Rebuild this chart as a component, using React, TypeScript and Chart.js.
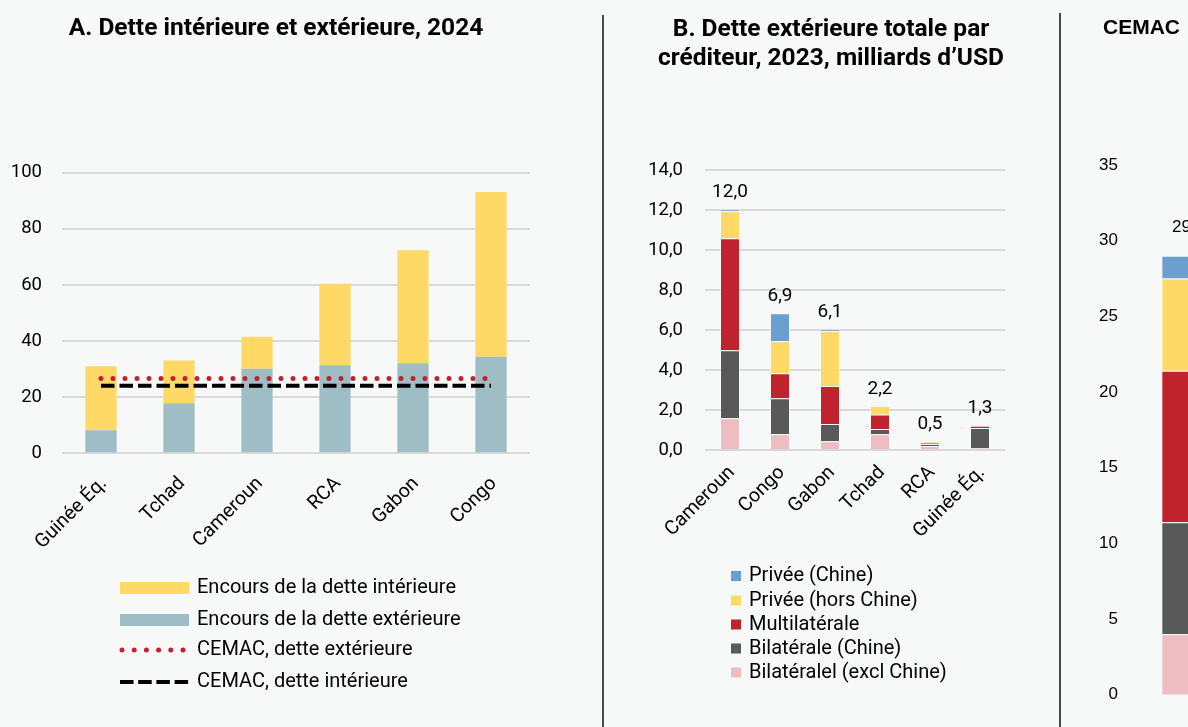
import React, { useEffect, useRef } from 'react';
import { Chart, registerables } from 'chart.js';

Chart.register(...registerables);

const FONT = "Roboto, 'Noto Sans', sans-serif";
const ARIAL = "'Liberation Sans', Arial, sans-serif";
const BG = '#f7f8f8';
const YELLOW = '#FFD966';
const TEAL = '#9EBDC4';
const RED = '#C0232D';
const DARK = '#595959';
const PINK = '#EDBDC1';
const BLUE = '#6A9FD0';
const GRID = '#d9d9d9';

// ---------- Panel A ----------
const titleA = ['A. Dette intérieure et extérieure, 2024'];
const countriesA = ['Guinée Éq.', 'Tchad', 'Cameroun', 'RCA', 'Gabon', 'Congo'];
const externalA = [8.2, 17.8, 30.1, 31.4, 32.1, 34.4];
const domesticA = [22.8, 15.3, 11.4, 29.0, 40.3, 58.7];
const cemacExtA = [26.7, 26.7, 26.7, 26.7, 26.7, 26.7];
const cemacIntA = [24.1, 24.1, 24.1, 24.1, 24.1, 24.1];
const seriesA = [
  'Encours de la dette intérieure',
  'Encours de la dette extérieure',
  'CEMAC, dette extérieure',
  'CEMAC, dette intérieure',
];
const ticksA = [0, 20, 40, 60, 80, 100];

// ---------- Panel B ----------
const titleB = ['B. Dette extérieure totale par', 'créditeur, 2023, milliards d\u2019USD'];
const countriesB = ['Cameroun', 'Congo', 'Gabon', 'Tchad', 'RCA', 'Guinée Éq.'];
const bilatExclB = [1.6, 0.8, 0.45, 0.8, 0.22, 0.12];
const bilatChineB = [3.4, 1.8, 0.87, 0.27, 0.08, 1.0];
const multilatB = [5.6, 1.25, 1.9, 0.72, 0.08, 0.11];
const priveHorsB = [1.35, 1.6, 2.75, 0.43, 0.06, 0.02];
const priveChineB = [0.1, 1.4, 0.07, 0, 0, 0];
const totalsB = [12.0, 6.9, 6.1, 2.2, 0.5, 1.3];
const seriesB = [
  'Bilatéralel (excl Chine)',
  'Bilatérale (Chine)',
  'Multilatérale',
  'Privée (hors Chine)',
  'Privée (Chine)',
];
const ticksB = [0, 2, 4, 6, 8, 10, 12, 14];

// ---------- Panel C ----------
const titleC = ['CEMAC'];
const categoriesC = ['CEMAC'];
const bilatExclC = [4.0];
const bilatChineC = [7.4];
const multilatC = [10.0];
const priveHorsC = [6.1];
const priveChineC = [1.5];
const totalsC = [29.0];
const ticksC = [0, 5, 10, 15, 20, 25, 30, 35];

const colorsB = [PINK, DARK, RED, YELLOW, BLUE];
const fmt1 = (v: number) => v.toFixed(1).replace('.', ',');

function titlePlugin(lines: string[], x: number, y0: number, lh: number, font: string, align: CanvasTextAlign) {
  return {
    id: 'panelTitle',
    afterDraw(chart: any) {
      const ctx = chart.ctx as CanvasRenderingContext2D;
      ctx.save();
      ctx.font = font;
      ctx.fillStyle = '#000';
      ctx.textAlign = align;
      ctx.textBaseline = 'middle';
      lines.forEach((l, i) => ctx.fillText(l, x, y0 + i * lh));
      ctx.restore();
    },
  };
}

function configA(): any {
  const legendPlugin = {
    id: 'legendA',
    afterDraw(chart: any) {
      const ctx = chart.ctx as CanvasRenderingContext2D;
      const rows = [588, 620, 650, 682];
      ctx.save();
      ctx.fillStyle = YELLOW;
      ctx.fillRect(120, rows[0] - 6, 69, 12);
      ctx.fillStyle = TEAL;
      ctx.fillRect(120, rows[1] - 6, 69, 12);
      ctx.strokeStyle = RED;
      ctx.lineWidth = 5;
      ctx.lineCap = 'round';
      ctx.setLineDash([0, 12.2]);
      ctx.beginPath();
      ctx.moveTo(122, rows[2]);
      ctx.lineTo(186, rows[2]);
      ctx.stroke();
      ctx.strokeStyle = '#000';
      ctx.lineWidth = 4;
      ctx.lineCap = 'butt';
      ctx.setLineDash([13.5, 4.7]);
      ctx.beginPath();
      ctx.moveTo(120, rows[3]);
      ctx.lineTo(189, rows[3]);
      ctx.stroke();
      ctx.setLineDash([]);
      ctx.fillStyle = '#000';
      ctx.font = `20px ${FONT}`;
      ctx.textAlign = 'left';
      ctx.textBaseline = 'middle';
      seriesA.forEach((l, i) => ctx.fillText(l, 197, rows[i]));
      ctx.restore();
    },
  };
  return {
    type: 'bar',
    data: {
      labels: countriesA,
      datasets: [
        {
          type: 'line', label: seriesA[2], data: cemacExtA, order: 0, stack: 'l1',
          borderColor: RED, borderWidth: 5, borderDash: [0, 12], borderCapStyle: 'round',
          pointRadius: 0, fill: false,
        },
        {
          type: 'line', label: seriesA[3], data: cemacIntA, order: 0, stack: 'l2',
          borderColor: '#000', borderWidth: 4, borderDash: [13.5, 5], borderCapStyle: 'butt',
          pointRadius: 0, fill: false,
        },
        { label: seriesA[1], data: externalA, backgroundColor: TEAL, order: 1, stack: 'b' },
        { label: seriesA[0], data: domesticA, backgroundColor: YELLOW, order: 1, stack: 'b' },
      ],
    },
    options: {
      responsive: false,
      animation: false,
      layout: { padding: { left: 0, right: 25, top: 172.7, bottom: 173.7 } },
      datasets: { bar: { barPercentage: 0.8, categoryPercentage: 0.5 } },
      plugins: { legend: { display: false }, title: { display: false }, tooltip: { enabled: false } },
      scales: {
        x: {
          stacked: true,
          afterFit: (s: any) => { s.height = 100; },
          border: { display: false },
          grid: { display: false, drawTicks: false },
          ticks: { autoSkip: false, minRotation: 45, maxRotation: 45, padding: 19, labelOffset: 3, color: '#000', font: { family: FONT, size: 19.5 } },
        },
        y: {
          stacked: true, min: 0, max: 100,
          afterBuildTicks: (s: any) => { s.ticks = ticksA.map((v) => ({ value: v })); },
          afterFit: (s: any) => { s.width = 62; },
          border: { display: false },
          grid: { color: GRID, lineWidth: 2, drawTicks: false },
          ticks: { padding: 20, color: '#000', font: { family: FONT, size: 18.5 } },
        },
      },
    },
    plugins: [titlePlugin(titleA, 276, 28.5, 27, `bold 24.5px ${FONT}`, 'center'), legendPlugin],
  };
}

function stackDatasets(arrays: number[][], barPct: number, catPct: number) {
  return arrays.map((d, i) => ({
    label: seriesB[i],
    data: d,
    backgroundColor: colorsB[i],
    borderColor: 'rgba(255,255,255,0.35)',
    borderWidth: 1,
    barPercentage: barPct,
    categoryPercentage: catPct,
  }));
}

function configB(): any {
  const labelPlugin = {
    id: 'labelsB',
    afterDatasetsDraw(chart: any) {
      const ctx = chart.ctx as CanvasRenderingContext2D;
      const xs = chart.scales.x, ys = chart.scales.y;
      ctx.save();
      ctx.font = `19px ${FONT}`;
      ctx.fillStyle = '#000';
      ctx.textAlign = 'center';
      ctx.textBaseline = 'middle';
      totalsB.forEach((t, i) => {
        const sum = chart.data.datasets.reduce((s: number, d: any) => s + d.data[i], 0);
        ctx.fillText(fmt1(t), xs.getPixelForValue(i), ys.getPixelForValue(sum) - 17);
      });
      ctx.restore();
    },
  };
  const legendPlugin = {
    id: 'legendB',
    afterDraw(chart: any) {
      const ctx = chart.ctx as CanvasRenderingContext2D;
      const rows = [576, 600.5, 624.5, 648.5, 672.5];
      ctx.save();
      ctx.font = `20px ${FONT}`;
      ctx.textAlign = 'left';
      ctx.textBaseline = 'middle';
      for (let r = 0; r < 5; r++) {
        const idx = 4 - r;
        ctx.fillStyle = colorsB[idx];
        ctx.fillRect(126, rows[r] - 5, 10, 10);
        ctx.fillStyle = '#000';
        ctx.fillText(seriesB[idx], 144, rows[r]);
      }
      ctx.restore();
    },
  };
  return {
    type: 'bar',
    data: {
      labels: countriesB,
      datasets: stackDatasets([bilatExclB, bilatChineB, multilatB, priveHorsB, priveChineB], 0.8, 0.5),
    },
    options: {
      responsive: false,
      animation: false,
      layout: { padding: { left: 0, right: 50, top: 170.3, bottom: 176.7 } },
      plugins: { legend: { display: false }, title: { display: false }, tooltip: { enabled: false } },
      scales: {
        x: {
          stacked: true,
          afterFit: (s: any) => { s.height = 100; },
          border: { display: false },
          grid: { display: false, drawTicks: false },
          ticks: { autoSkip: false, minRotation: 45, maxRotation: 45, padding: 11, labelOffset: 2, color: '#000', font: { family: FONT, size: 19.5 } },
        },
        y: {
          stacked: true, min: 0, max: 14,
          afterBuildTicks: (s: any) => { s.ticks = ticksB.map((v) => ({ value: v })); },
          afterFit: (s: any) => { s.width = 100; },
          border: { display: false },
          grid: { color: GRID, lineWidth: 2, drawTicks: false },
          ticks: { padding: 22, color: '#000', font: { family: FONT, size: 18.5 }, callback: (v: any) => fmt1(Number(v)) },
        },
      },
    },
    plugins: [titlePlugin(titleB, 226, 30, 28.5, `bold 24.5px ${FONT}`, 'center'), labelPlugin, legendPlugin],
  };
}

function configC(): any {
  const labelPlugin = {
    id: 'labelsC',
    afterDatasetsDraw(chart: any) {
      const ctx = chart.ctx as CanvasRenderingContext2D;
      const xs = chart.scales.x, ys = chart.scales.y;
      ctx.save();
      ctx.font = `17px ${ARIAL}`;
      ctx.fillStyle = '#000';
      ctx.textAlign = 'center';
      ctx.textBaseline = 'middle';
      totalsC.forEach((t, i) => {
        const sum = chart.data.datasets.reduce((s: number, d: any) => s + d.data[i], 0);
        ctx.fillText(fmt1(t), xs.getPixelForValue(i), ys.getPixelForValue(sum) - 29);
      });
      ctx.restore();
    },
  };
  return {
    type: 'bar',
    data: {
      labels: categoriesC,
      datasets: stackDatasets([bilatExclC, bilatChineC, multilatC, priveHorsC, priveChineC], 0.56, 1),
    },
    options: {
      responsive: false,
      animation: false,
      layout: { padding: { left: 0, right: 225, top: 165, bottom: 25 } },
      plugins: { legend: { display: false }, title: { display: false }, tooltip: { enabled: false } },
      scales: {
        x: { stacked: true, display: false },
        y: {
          stacked: true, min: 0, max: 35,
          afterBuildTicks: (s: any) => { s.ticks = ticksC.map((v) => ({ value: v })); },
          afterFit: (s: any) => { s.width = 78; },
          border: { display: false },
          grid: { display: false, drawTicks: false },
          ticks: { padding: 22, color: '#000', font: { family: ARIAL, size: 17 } },
        },
      },
    },
    plugins: [titlePlugin(titleC, 41, 28.5, 27, `bold 21px ${ARIAL}`, 'left'), labelPlugin],
  };
}

function Panel({ left, width, make }: { left: number; width: number; make: () => any }) {
  const ref = useRef<HTMLCanvasElement | null>(null);
  useEffect(() => {
    if (!ref.current) return;
    const chart = new Chart(ref.current, make());
    return () => chart.destroy();
  }, []);
  return (
    <canvas
      ref={ref}
      width={width}
      height={727}
      style={{ position: 'absolute', left, top: 0, width, height: 727 }}
    />
  );
}

export default function App() {
  return (
    <div
      style={{
        position: 'fixed', left: 0, top: 0, width: 1188, height: 727,
        overflow: 'hidden', background: BG,
      }}
    >
      <Panel left={0} width={555} make={configA} />
      <Panel left={605} width={450} make={configB} />
      <Panel left={1062} width={400} make={configC} />
      <div style={{ position: 'absolute', left: 602, top: 15, width: 2, height: 712, background: '#4a4a4a' }} />
      <div style={{ position: 'absolute', left: 1059, top: 13, width: 2, height: 714, background: '#4a4a4a' }} />
    </div>
  );
}
